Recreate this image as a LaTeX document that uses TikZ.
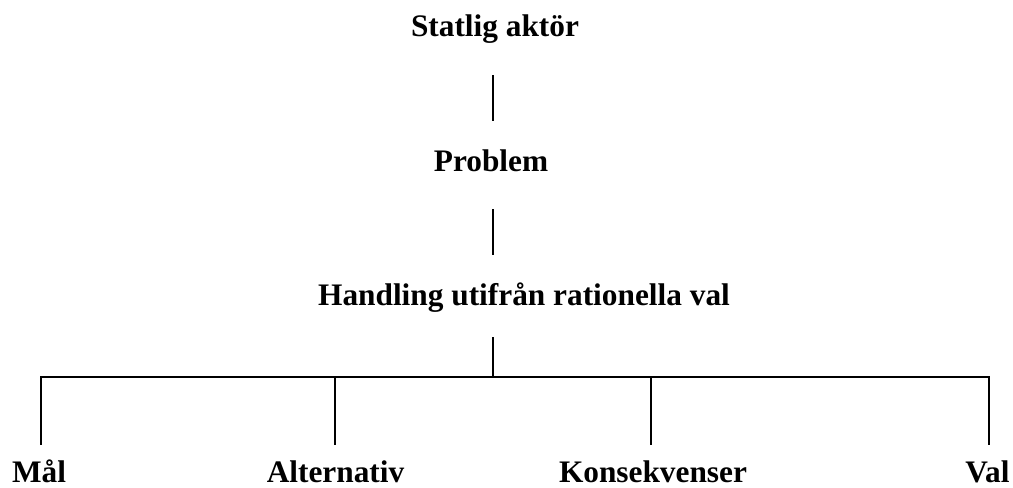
\documentclass[tikz,border=0pt]{standalone}
\usepackage{fontspec}
\setmainfont{Liberation Serif}
\begin{document}
\begin{tikzpicture}[x=0.75pt,y=-0.75pt,
  lbl/.style={anchor=base,inner sep=0pt,font=\fontsize{23.5}{28}\selectfont\bfseries},
  conn/.style={line width=1.4pt}]
\useasboundingbox (0,0) rectangle (1013,487);
\node[lbl] (actor) at (495,36) {Statlig aktör};
\node[lbl] (problem) at (491,171) {Problem};
\node[lbl] (handling) at (524,305) {Handling utifrån rationella val};
\node[lbl] (mal) at (39,482) {Mål};
\node[lbl] (alt) at (335.5,482) {Alternativ};
\node[lbl] (kons) at (653,482) {Konsekvenser};
\node[lbl] (val) at (987.5,482) {Val};
\coordinate (a1) at (492.7,75);
\coordinate (a2) at (492.7,121);
\coordinate (b1) at (492.7,209);
\coordinate (b2) at (492.7,255);
\coordinate (c1) at (492.7,337);
\coordinate (c2) at (492.7,376.7);
\coordinate (hl) at (41,376.7);
\coordinate (hr) at (989,376.7);
\coordinate (dm) at (41,445);
\coordinate (tmal) at (41,376.7);
\coordinate (talt) at (334.7,376.7);
\coordinate (dalt) at (334.7,445);
\coordinate (tkons) at (650.7,376.7);
\coordinate (dkons) at (650.7,445);
\coordinate (tval) at (989,376.7);
\coordinate (dval) at (989,445);
\draw[conn] (a1) -- (a2);
\draw[conn] (b1) -- (b2);
\draw[conn] (c1) -- (c2);
\draw[conn,line cap=rect] (hl) -- (hr);
\draw[conn] (tmal) -- (dm);
\draw[conn] (talt) -- (dalt);
\draw[conn] (tkons) -- (dkons);
\draw[conn] (tval) -- (dval);
\end{tikzpicture}
\end{document}
